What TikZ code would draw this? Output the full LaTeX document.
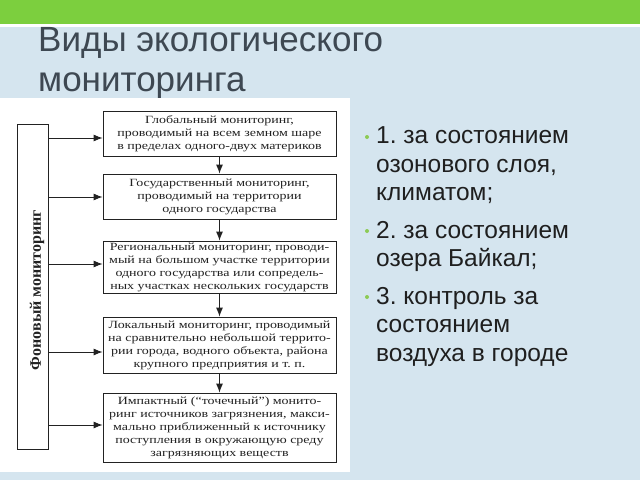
\documentclass[tikz,border=0pt]{standalone}
\usepackage{fontspec}
\setmainfont{Liberation Sans}
\newfontfamily\boxfont[FakeStretch=1.27]{Liberation Serif}
\newfontfamily\boldserif{Liberation Serif}
\usetikzlibrary{arrows.meta}
\frenchspacing
\definecolor{bgblue}{HTML}{D5E5EF}
\definecolor{topgreen}{HTML}{7CCF3E}
\definecolor{titlegray}{HTML}{3E4852}
\definecolor{bulletgreen}{HTML}{8DCB55}
\definecolor{scanink}{HTML}{222222}
\tikzset{
  stagebox/.style={draw=scanink, line width=0.8pt, fill=white, text=scanink,
    minimum width=233pt, inner sep=0pt, align=center,
    font=\boxfont\fontsize{11}{13}\selectfont},
  arr/.style={draw=scanink, line width=0.9pt, -{Latex[length=9pt,width=7pt]}},
  listtext/.style={anchor=base west, align=left, inner sep=0pt, text=black!88,
    font=\fontsize{24.5}{28.5}\selectfont},
  bulletdot/.style={circle, fill=bulletgreen, inner sep=0pt, minimum size=4pt}
}
\begin{document}
\begin{tikzpicture}[x=1pt,y=-1pt]
\useasboundingbox (0,0) rectangle (640,480);
\fill[bgblue] (0,0) rectangle (640,480);
\fill[white] (0,0) rectangle (640,27);
\fill[topgreen] (0,0) rectangle (640,24);
% title
\node[anchor=base west, inner sep=0pt, text=titlegray, font=\fontsize{35}{40}\selectfont] (title1) at (38,51) {Виды экологического};
\node[anchor=base west, inner sep=0pt, text=titlegray, font=\fontsize{35}{40}\selectfont] (title2) at (38,91) {мониторинга};
% white scan panel
\fill[white] (0,98) rectangle (350,472);
% left box
\node[draw=scanink, line width=0.8pt, minimum width=31pt, minimum height=325pt, inner sep=0pt] (fon) at (32.5,286.5) {};
\node[rotate=90, inner sep=0pt, text=scanink, font=\boldserif\bfseries\fontsize{16}{18}\selectfont] (fonlbl) at (37,290) {Фоновый мониторинг};
% stage boxes
\node[stagebox, minimum height=45pt] (b1) at (219.5,133.5) {Глобальный мониторинг,\\проводимый на всем земном шаре\\в пределах одного-двух материков};
\node[stagebox, minimum height=45pt] (b2) at (219.5,196.5) {Государственный мониторинг,\\проводимый на территории\\одного государства};
\node[stagebox, minimum height=52pt] (b3) at (219.5,267) {Региональный мониторинг, проводи-\\мый на большом участке территории\\одного государства или сопредель-\\ных участках нескольких государств};
\node[stagebox, minimum height=56pt] (b4) at (219.5,345) {Локальный мониторинг, проводимый\\на сравнительно небольшой террито-\\рии города, водного объекта, района\\крупного предприятия и т. п.};
\node[stagebox, minimum height=69pt] (b5) at (219.5,427.5) {Импактный (“точечный”) монито-\\ринг источников загрязнения, макси-\\мально приближенный к источнику\\поступления в окружающую среду\\загрязняющих веществ};
% vertical arrows
\draw[arr] (b1.south) -- (b2.north);
\draw[arr] (b2.south) -- (b3.north);
\draw[arr] (b3.south) -- (b4.north);
\draw[arr] (b4.south) -- (b5.north);
% horizontal arrows
\draw[arr] ([yshift=-4.5pt]fon.east |- b1.west) -- ([yshift=-4.5pt]b1.west);
\draw[arr] ([yshift=-0.5pt]fon.east |- b2.west) -- ([yshift=-0.5pt]b2.west);
\draw[arr] ([yshift=3pt]fon.east |- b3.west) -- ([yshift=3pt]b3.west);
\draw[arr] ([yshift=-7pt]fon.east |- b4.west) -- ([yshift=-7pt]b4.west);
\draw[arr] ([yshift=2.5pt]fon.east |- b5.west) -- ([yshift=2.5pt]b5.west);
% right list
\node[bulletdot] (d1) at (367,137) {};
\node[bulletdot] (d2) at (367,231) {};
\node[bulletdot] (d3) at (367,297) {};
\node[listtext] (i1) at (376,200.5) {1. за состоянием\\озонового слоя,\\климатом;};
\node[listtext] (i2) at (376,266.5) {2. за состоянием\\озера Байкал;};
\node[listtext] (i3) at (376,361) {3. контроль за\\состоянием\\воздуха в городе};
\end{tikzpicture}
\end{document}
